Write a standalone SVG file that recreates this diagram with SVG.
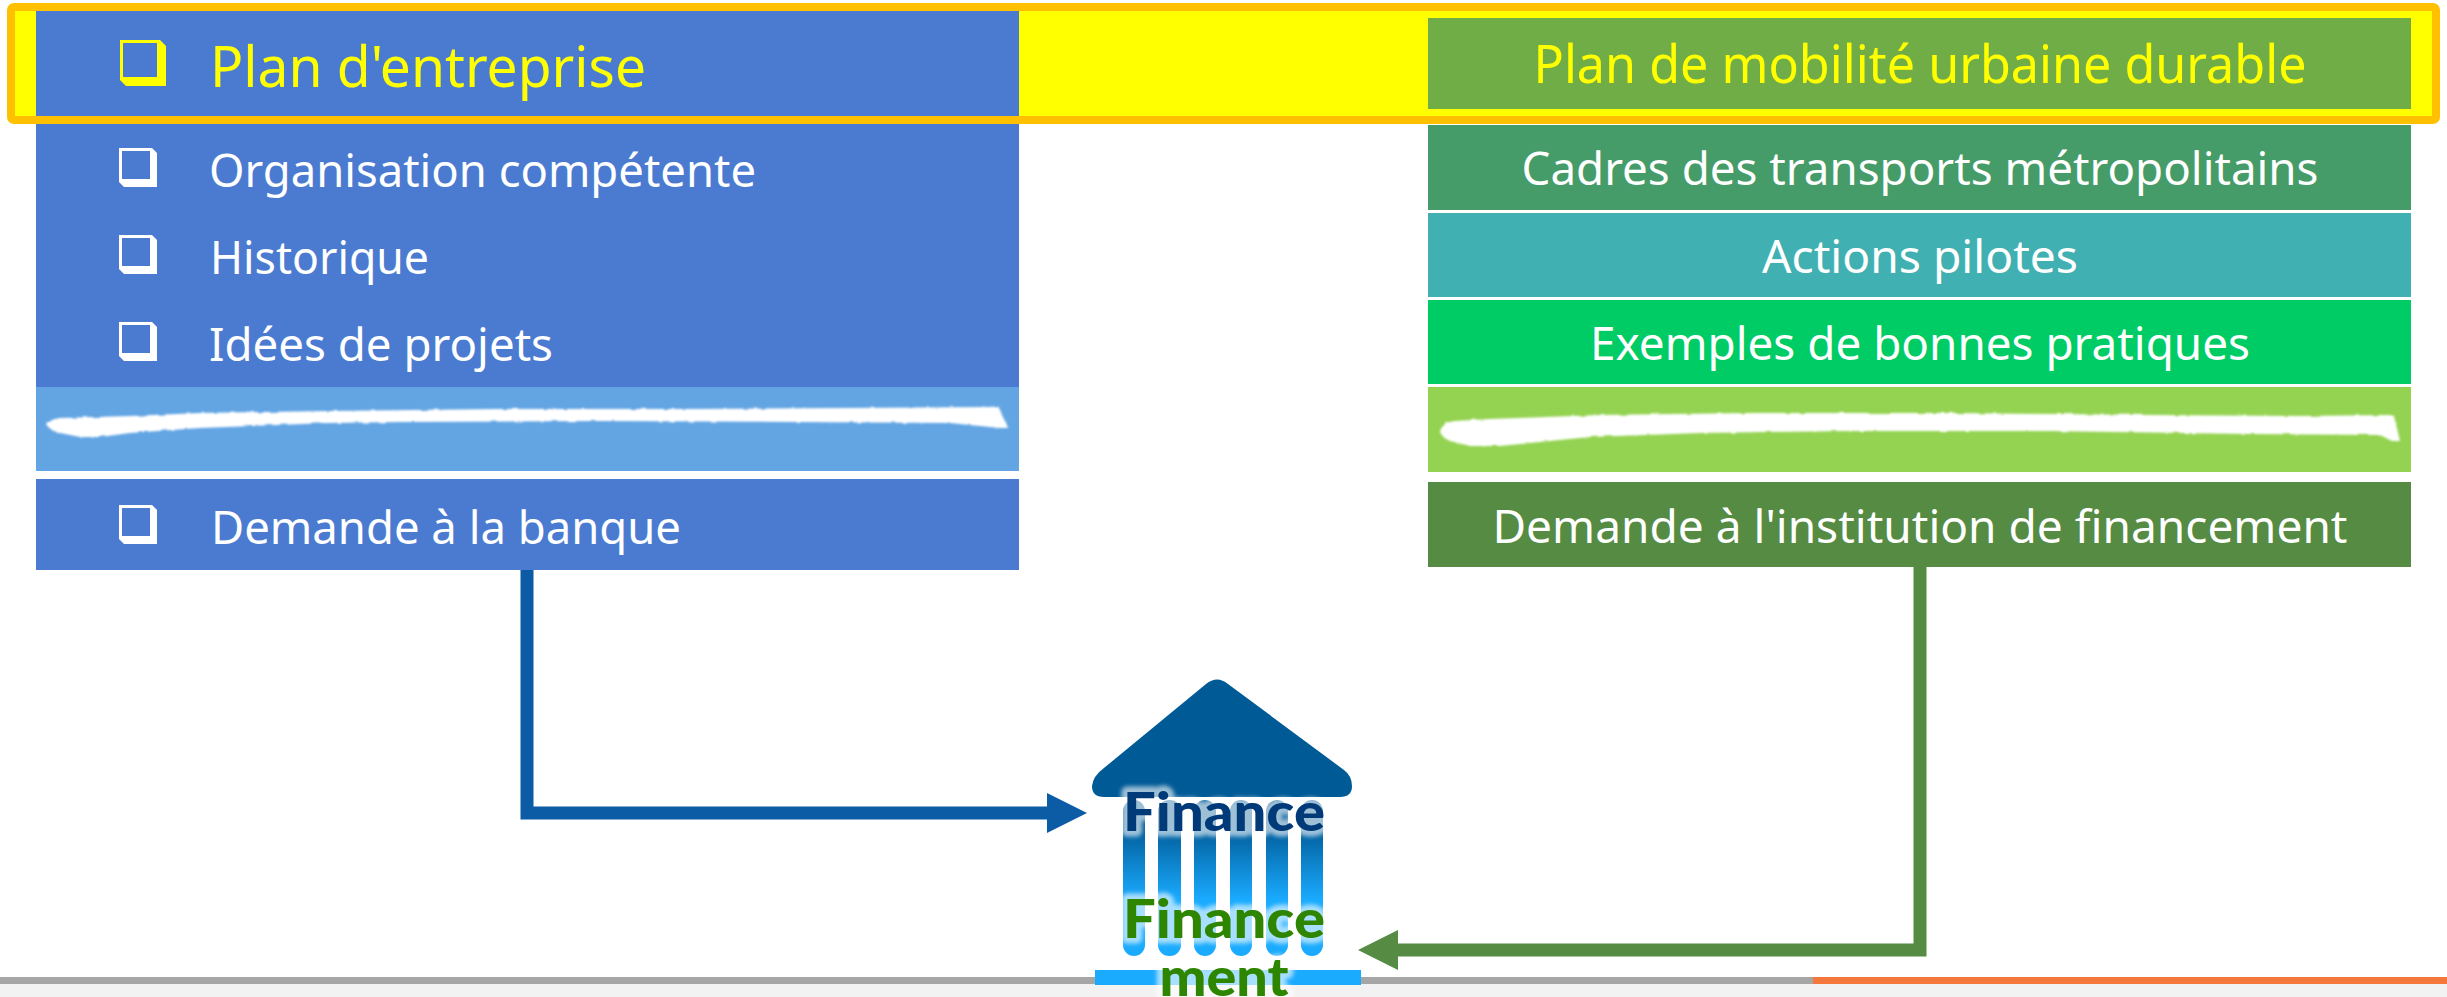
<svg xmlns="http://www.w3.org/2000/svg" width="2447" height="997" viewBox="0 0 2447 997">
<style>
text{font-family:"Noto Sans","Open Sans","Liberation Sans",sans-serif;font-size:46px;fill:#fff}
.y{fill:#ff0}
.c{text-anchor:middle}
.fin{font-family:"Lato","Liberation Sans",sans-serif;font-weight:900;font-size:53px;text-anchor:middle}
.halo{fill:#fff;stroke:#fff;stroke-width:11px;stroke-linejoin:round;opacity:.62;filter:url(#soft)}
.col{fill:url(#colg)}
.scr{fill:#fff;filter:url(#rough)}
</style>
<defs>
<linearGradient id="colg" gradientUnits="userSpaceOnUse" x1="0" y1="825" x2="0" y2="900">
<stop offset="0" stop-color="#005a96"/><stop offset="1" stop-color="#1aabff"/>
</linearGradient>
<filter id="soft" x="-10%" y="-30%" width="120%" height="160%"><feGaussianBlur stdDeviation="2"/></filter>
<filter id="rough" x="-2%" y="-30%" width="104%" height="160%">
<feTurbulence type="fractalNoise" baseFrequency="0.1" numOctaves="2" seed="4" result="n"/>
<feDisplacementMap in="SourceGraphic" in2="n" scale="3"/>
<feGaussianBlur stdDeviation="1"/>
</filter>
<g id="bul"><path d="M0 0H33L38 5V39H5L0 34Z" fill="#fff"/><rect x="3" y="3" width="28" height="28" fill="#4a7bd1"/></g>
<marker id="mb" markerUnits="userSpaceOnUse" markerWidth="40" markerHeight="40" refX="0" refY="20" orient="auto"><path d="M0 0L40 20L0 40Z" fill="#0c5ca5"/></marker>
<marker id="mg" markerUnits="userSpaceOnUse" markerWidth="40" markerHeight="40" refX="0" refY="20" orient="auto"><path d="M0 0L40 20L0 40Z" fill="#558b43"/></marker>
</defs>
<rect width="2447" height="997" fill="#fff"/>
<g id="footer">
<rect y="984" width="2447" height="13" fill="#f2f2f2"/>
<rect y="977" width="1813" height="7" fill="#a6a6a6"/>
<rect x="1813" y="977" width="634" height="7" fill="#f4783c"/>
</g>
<rect id="highlight-fill" x="11" y="7" width="2426" height="113" fill="#ff0"/>
<g id="left-column">
<rect x="36" y="11" width="983" height="376" fill="#4a7bd1"/>
<rect x="36" y="387" width="983" height="84" fill="#63a5e3"/>
<rect x="36" y="479" width="983" height="91" fill="#4a7bd1"/>
<path class="scr" d="M47 425Q50 419 60 418L130 416L200 413L330 411L500 409L700 409L850 408L990 407L998 406L1005 420L1008 428L1000 428L950 423L800 422L600 421L400 422L330 423L200 428L130 433L100 437L80 437L60 433Q49 430 47 425Z"/>
</g>
<g id="right-column">
<rect x="1428" y="18" width="983" height="91" fill="#70ad47"/>
<rect x="1428" y="125" width="983" height="85" fill="#459c68"/>
<rect x="1428" y="213" width="983" height="84" fill="#41b0b2"/>
<rect x="1428" y="300" width="983" height="84" fill="#00cc66"/>
<rect x="1428" y="387" width="983" height="85" fill="#94d352"/>
<rect x="1428" y="482" width="983" height="85" fill="#558b43"/>
<path class="scr" d="M1440 431Q1443 422 1455 421L1490 419L1600 415L1750 413L1950 413L2150 415L2300 416L2390 415L2394 416L2400 441L2392 441L2380 435L2250 434L2050 431L1850 431L1700 433L1590 437L1500 446L1470 446L1450 441Q1441 437 1440 431Z"/>
</g>
<rect id="highlight" x="11" y="7" width="2425" height="113" rx="3" fill="none" stroke="#ffc000" stroke-width="8"/>
<g id="node-plan-entreprise">
<path d="M120 40H160L166 46V86H126L120 80Z" fill="#ff0"/><rect x="123" y="43" width="34" height="34" fill="#4a7bd1"/>
<text class="y" x="210" y="87" style="font-size:56px" textLength="436" lengthAdjust="spacingAndGlyphs">Plan d'entreprise</text>
</g>
<g id="node-organisation"><use href="#bul" x="119" y="148"/><text x="209" y="187" textLength="547" lengthAdjust="spacingAndGlyphs">Organisation compétente</text></g>
<g id="node-historique"><use href="#bul" x="119" y="235"/><text x="210" y="274" textLength="219" lengthAdjust="spacingAndGlyphs">Historique</text></g>
<g id="node-idees"><use href="#bul" x="119" y="322"/><text x="209" y="361" textLength="344" lengthAdjust="spacingAndGlyphs">Idées de projets</text></g>
<g id="node-demande-banque"><use href="#bul" x="119" y="505"/><text x="211" y="544" textLength="470" lengthAdjust="spacingAndGlyphs">Demande à la banque</text></g>
<g id="node-plan-mobilite"><text class="y c" x="1920" y="83" style="font-size:52px" textLength="773" lengthAdjust="spacingAndGlyphs">Plan de mobilité urbaine durable</text></g>
<g id="node-cadres"><text class="c" x="1920" y="185" textLength="797" lengthAdjust="spacingAndGlyphs">Cadres des transports métropolitains</text></g>
<g id="node-actions"><text class="c" x="1920" y="273" textLength="316" lengthAdjust="spacingAndGlyphs">Actions pilotes</text></g>
<g id="node-exemples"><text class="c" x="1920" y="360" textLength="660" lengthAdjust="spacingAndGlyphs">Exemples de bonnes pratiques</text></g>
<g id="node-demande-institution"><text class="c" x="1920" y="543" textLength="855" lengthAdjust="spacingAndGlyphs">Demande à l'institution de financement</text></g>
<g id="connectors" fill="none" stroke-width="13" stroke-miterlimit="10">
<path d="M527 570V813H1047" stroke="#0c5ca5" marker-end="url(#mb)"/>
<path d="M1920 567V950H1398" stroke="#558b43" marker-end="url(#mg)"/>
</g>
<g id="node-finance">
<path d="M1206 684Q1217 675 1228 684L1344 770Q1352 776 1352 786Q1352 797 1340 797H1104Q1092 797 1092 786Q1093 776 1104 768Z" fill="#005a96"/>
<g>
<rect class="col" x="1123" y="800" width="22" height="156" rx="11"/>
<rect class="col" x="1158" y="800" width="23" height="156" rx="11"/>
<rect class="col" x="1194" y="800" width="22" height="156" rx="11"/>
<rect class="col" x="1230" y="800" width="22" height="156" rx="11"/>
<rect class="col" x="1266" y="800" width="22" height="156" rx="11"/>
<rect class="col" x="1301" y="800" width="22" height="156" rx="11"/>
</g>
<rect x="1095" y="970" width="266" height="15" fill="#1aabff"/>
<text class="fin halo" x="1224" y="831" textLength="202" lengthAdjust="spacingAndGlyphs">Finance</text>
<text class="fin halo" x="1224" y="938" textLength="202" lengthAdjust="spacingAndGlyphs">Finance</text>
<text class="fin halo" x="1224" y="996" textLength="129" lengthAdjust="spacingAndGlyphs">ment</text>
<text class="fin" x="1224" y="831" style="fill:#003a78" textLength="202" lengthAdjust="spacingAndGlyphs">Finance</text>
<text class="fin" x="1224" y="938" style="fill:#2d8500" textLength="202" lengthAdjust="spacingAndGlyphs">Finance</text>
<text class="fin" x="1224" y="996" style="fill:#2d8500" textLength="129" lengthAdjust="spacingAndGlyphs">ment</text>
</g>
</svg>
